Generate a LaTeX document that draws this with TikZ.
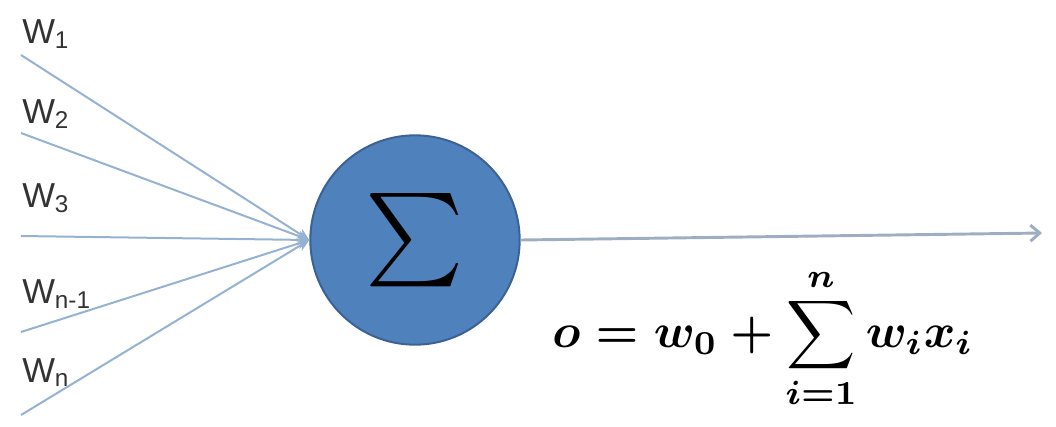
\documentclass[tikz,border=0pt]{standalone}
\usepackage{amsmath}
\usepackage{fontspec}
\setmainfont{Liberation Sans}
\usetikzlibrary{arrows.meta}
\definecolor{sumblue}{RGB}{79,129,189}
\definecolor{sumedge}{RGB}{58,98,148}
\definecolor{wline}{RGB}{150,178,210}
\definecolor{oline}{RGB}{158,174,194}
\tikzset{
  wlabel/.style={anchor=base west,inner sep=0pt,font=\fontsize{26}{30}\selectfont,text=black!80},
  wedge/.style={wline,line width=1.5pt,-{Stealth[length=9pt,width=8pt]}},
  oedge/.style={oline,line width=2.2pt,-{Straight Barb[length=7pt,width=12pt]}}
}

\begin{document}
\begin{tikzpicture}[x=0.75pt,y=-0.75pt]
\useasboundingbox (0,0) rectangle (1056,426);
% summing unit
\node[circle,fill=sumblue,draw=sumedge,line width=1.5pt,minimum size=157pt,inner sep=0pt](sum)at(415,240){\raisebox{-6pt}{\scalebox{7}{$\sum$}}};
% weights
\node[wlabel](w1)at(22,43){W\textsubscript{1}};
\node[wlabel](w2)at(22,123){W\textsubscript{2}};
\node[wlabel](w3)at(22,207){W\textsubscript{3}};
\node[wlabel](wm)at(22,303){W\textsubscript{n-1}};
\node[wlabel](wn)at(22,382){W\textsubscript{n}};
\coordinate(in1)at(21,55);
\coordinate(in2)at(21,133);
\coordinate(in3)at(21,236);
\coordinate(inm)at(21,332);
\coordinate(inn)at(21,415);
\draw[wedge](in1)--(sum.west);
\draw[wedge](in2)--(sum.west);
\draw[wedge](in3)--(sum.west);
\draw[wedge](inm)--(sum.west);
\draw[wedge](inn)--(sum.west);
% output
\coordinate(out)at(1042,233);
\draw[oedge](sum.east)--(out);
\node[anchor=base west,inner sep=0pt](formula)at(552,347){\scalebox{3.6}{\boldmath$\displaystyle o=w_0+\sum_{i=1}^{n}w_ix_i$}};
\end{tikzpicture}
\end{document}
